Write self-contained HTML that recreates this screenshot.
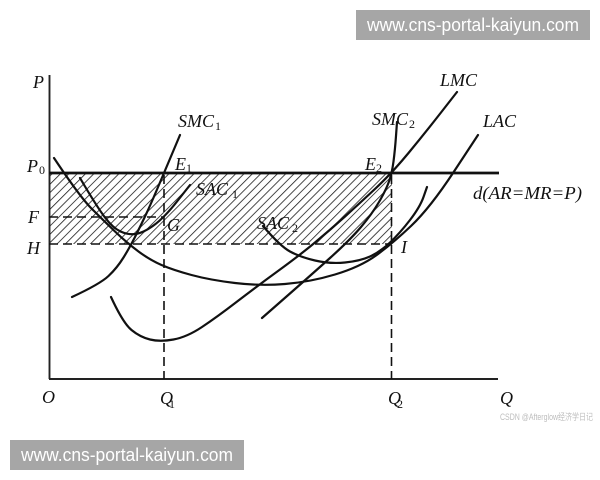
<!DOCTYPE html>
<html><head><meta charset="utf-8"><style>
html,body{margin:0;padding:0;background:#fff;}
svg{display:block;}
.lab{font-family:"Liberation Serif",serif;font-style:italic;font-size:18px;fill:#111;}
.sub{font-family:"Liberation Serif",serif;font-size:12px;fill:#111;}
.cv{fill:none;stroke:#111;stroke-width:2.2;stroke-linecap:round;}
.ds{fill:none;stroke:#111;stroke-width:1.6;stroke-dasharray:9 5;}
</style></head><body>
<svg width="600" height="480" viewBox="0 0 600 480" xmlns="http://www.w3.org/2000/svg">
<defs>
<pattern id="h" width="5.9" height="5.9" patternUnits="userSpaceOnUse" patternTransform="rotate(45)">
<line x1="0" y1="0" x2="0" y2="5.9" stroke="#1a1a1a" stroke-width="1.6"/>
</pattern>
</defs>
<rect width="600" height="480" fill="#fff"/>
<!-- hatched area -->
<rect x="49" y="173" width="343" height="71" fill="url(#h)"/>
<!-- axes -->
<line x1="49.5" y1="75" x2="49.5" y2="379" stroke="#222" stroke-width="1.9"/>
<line x1="49" y1="379" x2="498" y2="379" stroke="#222" stroke-width="1.9"/>
<!-- price line -->
<line x1="49" y1="173" x2="499" y2="173" stroke="#111" stroke-width="2.8"/>
<!-- dashed -->
<line class="ds" x1="49" y1="217" x2="164" y2="217"/>
<line class="ds" x1="49" y1="244" x2="392" y2="244"/>
<line class="ds" x1="164" y1="175" x2="164" y2="379"/>
<line class="ds" x1="391.5" y1="175" x2="391.5" y2="379"/>
<!-- curves -->
<path class="cv" d="M54,158 Q80,197 91.5,208.5 Q103,220 115,231.5 Q127,243 138.5,251.5 Q150,260 161.5,265 Q173,270 191.5,275 Q210,280 235,283 Q260,286 285,284 Q310,282 335,274.5 Q360,267 376,255.5 Q392,244 411,226 Q430,208 454,171.5 L478,135"/>
<path class="cv" d="M72,297 Q100,284 108.5,276 Q117,268 123.5,257.5 Q130,247 135,237 Q140,227 145,216.5 Q150,206 157,189.5 Q164,173 172,154 L180,135"/>
<path class="cv" d="M80,178 Q97,207 105,217.5 Q113,228 120.5,231.5 Q128,235 135.5,234 Q143,233 153.5,225.5 Q164,218 177,201.5 L190,185"/>
<path class="cv" d="M111,297 Q123,323 131.5,330 Q140,337 150,339.5 Q160,342 173.5,339.5 Q187,337 202,327 Q217,317 236.5,302 Q256,287 278,271 Q300,255 315,242.5 Q330,230 345,216.5 Q360,203 376,188 Q392,173 408.5,153 Q425,133 441,112.5 L457,92"/>
<path class="cv" d="M262,318 Q310,276 330,258 Q350,240 361,227 Q372,214 379,202 Q386,190 389,181.5 Q392,173 393.5,161.5 Q395,150 396,136 L397,122"/>
<path class="cv" d="M263,226 Q280,246 290,251.5 Q300,257 315,260.5 Q330,264 345,262.5 Q360,261 370,256.5 Q380,252 390,242.5 Q400,233 410,220 Q420,207 423.5,197 L427,187"/>
<!-- labels -->
<text class="lab" x="33" y="88">P</text>
<text class="lab" x="27" y="172">P</text><text class="sub" x="39" y="174">0</text>
<text class="lab" x="28" y="223">F</text>
<text class="lab" x="27" y="254">H</text>
<text class="lab" x="42" y="403">O</text>
<text class="lab" x="160" y="404">Q</text><text class="sub" x="169" y="408">1</text>
<text class="lab" x="388" y="404">Q</text><text class="sub" x="397" y="408">2</text>
<text class="lab" x="500" y="404">Q</text>
<text class="lab" x="178" y="127">SMC</text><text class="sub" x="215" y="130">1</text>
<text class="lab" x="175" y="170">E</text><text class="sub" x="186" y="172">1</text>
<text class="lab" x="196" y="195">SAC</text><text class="sub" x="232" y="198">1</text>
<text class="lab" x="167" y="231">G</text>
<text class="lab" x="257" y="229">SAC</text><text class="sub" x="292" y="232">2</text>
<text class="lab" x="372" y="125">SMC</text><text class="sub" x="409" y="128">2</text>
<text class="lab" x="440" y="86">LMC</text>
<text class="lab" x="483" y="127">LAC</text>
<text class="lab" x="365" y="170">E</text><text class="sub" x="376" y="172">2</text>
<text class="lab" x="473" y="199" textLength="109" lengthAdjust="spacingAndGlyphs">d(AR=MR=P)</text>
<text class="lab" x="401" y="253">I</text>
<text x="500" y="420" font-family="Liberation Sans, Noto Sans CJK SC, sans-serif" font-size="9" fill="#bdbdbd" textLength="93" lengthAdjust="spacingAndGlyphs">CSDN @Afterglow经济学日记</text>
<!-- watermark boxes -->
<rect x="356" y="10" width="234" height="30" fill="#a6a6a6"/>
<text x="367" y="31" font-family="Liberation Sans, sans-serif" font-size="18" fill="#fff" textLength="212" lengthAdjust="spacingAndGlyphs">www.cns-portal-kaiyun.com</text>
<rect x="10" y="440" width="234" height="30" fill="#a6a6a6"/>
<text x="21" y="461" font-family="Liberation Sans, sans-serif" font-size="18" fill="#fff" textLength="212" lengthAdjust="spacingAndGlyphs">www.cns-portal-kaiyun.com</text>
</svg>
</body></html>
